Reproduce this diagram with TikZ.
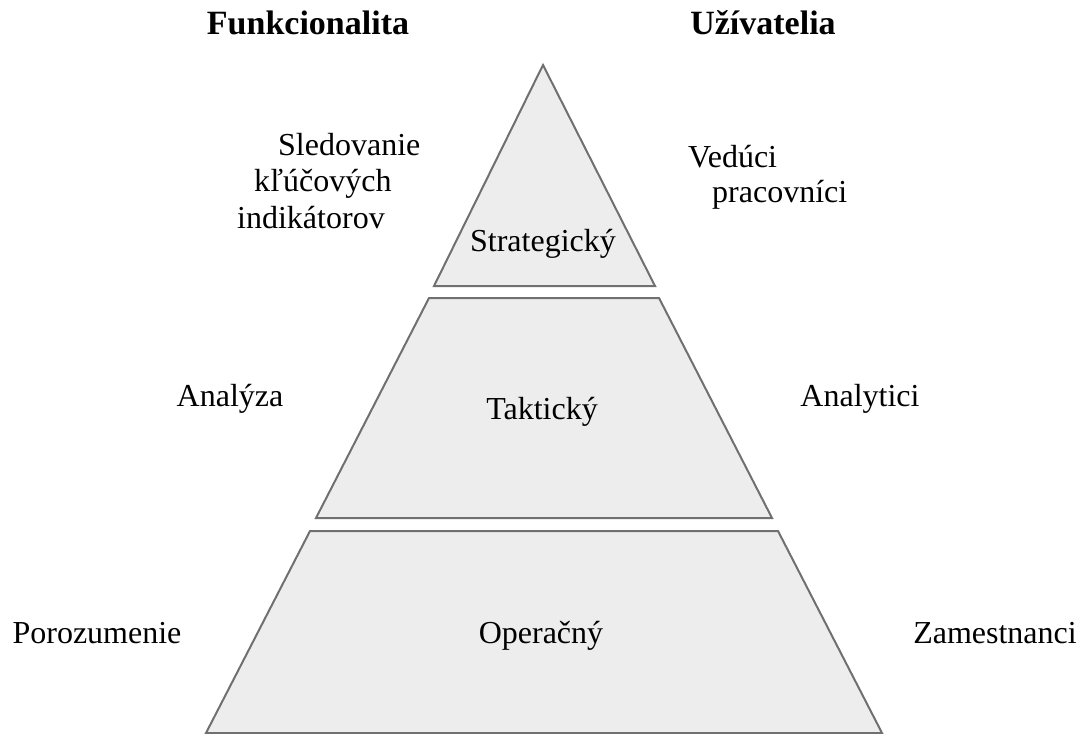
\documentclass[tikz,border=0pt]{standalone}
\usepackage{fontspec}
\setmainfont{Liberation Serif}
\definecolor{tieredge}{RGB}{112,112,112}
\definecolor{tierfill}{RGB}{237,237,237}
\begin{document}
\begin{tikzpicture}[x=1pt,y=-1pt,
		tier/.style={fill=tierfill,draw=tieredge,line width=2pt,line join=miter},
		label/.style={anchor=base,inner sep=0pt,font=\fontsize{32}{36}\selectfont},
		side/.style={label,anchor=base west},
		head/.style={anchor=base,inner sep=0pt,font=\fontsize{34}{38}\selectfont\bfseries}]
		\useasboundingbox[fill=white] (0,0) rectangle (1083,733);
		
		\filldraw[tier] (543,65) -- (655,286) -- (434,286) -- cycle;
		\filldraw[tier] (429,298) -- (659,298) -- (772,518) -- (316,518) -- cycle;
		\filldraw[tier] (310,531) -- (778,531) -- (882,733) -- (206,733) -- cycle;
		
		\node[label] (strategic) at (543,251) {Strategický};
		\node[label] (tactical) at (542,419) {Taktický};
		\node[label] (operational) at (541,643) {Operačný};
		
		\node[head] (function) at (308,35) {Funkcionalita};
		\node[head] (users) at (763,35) {Užívatelia};
		
		\node[side] (kpi1) at (278,155) {Sledovanie};
		\node[side] (kpi2) at (254,191) {kľúčových};
		\node[side] (kpi3) at (237,228) {indikátorov};
		\node[label] (analysis) at (230,406) {Analýza};
		\node[label] (insight) at (97,643) {Porozumenie};
		
		\node[side] (heads1) at (688,167) {Vedúci};
		\node[side] (heads2) at (712,202) {pracovníci};
		\node[label] (analysts) at (860,406) {Analytici};
		\node[label] (staff) at (995,643) {Zamestnanci};
		\end{tikzpicture}
\end{document}
